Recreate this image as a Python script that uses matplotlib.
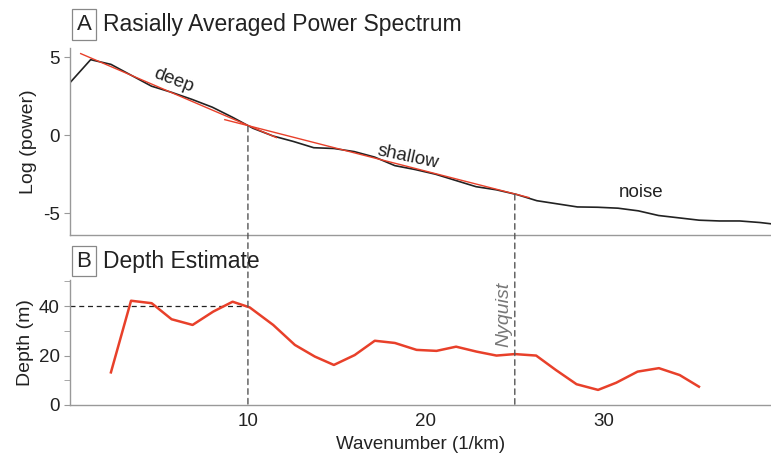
import matplotlib
matplotlib.use("Agg")
import matplotlib.pyplot as plt
from matplotlib.patches import ConnectionPatch

plt.rcParams["font.family"] = ["Liberation Sans", "DejaVu Sans"]

# radially averaged power spectrum (log power vs wavenumber)
spec_k = [0.02, 1.16, 2.3, 3.44, 4.58, 5.72, 6.86, 8.0, 9.14, 10.28, 11.42, 12.56,
          13.7, 14.84, 15.98, 17.12, 18.26, 19.4, 20.54, 21.68, 22.82, 23.96, 25.1,
          26.24, 27.38, 28.52, 29.66, 30.8, 31.94, 33.08, 34.22, 35.36, 36.5, 37.64,
          38.78, 39.92]
spec_logp = [3.4, 4.85, 4.55, 3.85, 3.15, 2.75, 2.3, 1.8, 1.15, 0.45, -0.05, -0.4,
             -0.8, -0.85, -1.05, -1.4, -1.95, -2.2, -2.5, -2.9, -3.3, -3.5, -3.8,
             -4.2, -4.4, -4.6, -4.62, -4.68, -4.85, -5.15, -5.3, -5.45, -5.5, -5.5,
             -5.6, -5.75]

# linear fits (end points)
deep_k = [0.6, 11.6]
deep_logp = [5.24, -0.15]
shallow_k = [8.7, 25.8]
shallow_logp = [1.0, -4.0]

# depth estimate
depth_k = [2.3, 3.43, 4.59, 5.71, 6.89, 8.05, 9.14, 10.1, 11.42, 12.64, 13.76, 14.83,
           16.0, 17.13, 18.26, 19.48, 20.6, 21.7, 22.85, 23.97, 25.0, 26.2, 27.3,
           28.47, 29.68, 30.7, 31.9, 33.1, 34.27, 35.35]
depth_m = [13.2, 42.2, 41.2, 34.7, 32.4, 37.8, 41.8, 39.5, 32.4, 24.3, 19.6, 16.2,
           20.2, 26.0, 25.1, 22.3, 21.9, 23.6, 21.6, 20.0, 20.6, 20.0, 14.2,
           8.4, 6.1, 9.0, 13.5, 14.9, 12.1, 7.4]

k_break = 10
k_nyquist = 25
depth_ref = 40

SPINE = "#999999"
RED = "#e8402a"
DASH = "#555555"
TXT = "#222222"

fig = plt.figure(figsize=(7.71, 4.54), dpi=100)
ax1 = fig.add_axes([0.0908, 0.4824, 0.9092, 0.4119])
ax2 = fig.add_axes([0.0908, 0.108, 0.9092, 0.2753], sharex=ax1)

for ax in (ax1, ax2):
    for s in ("top", "right"):
        ax.spines[s].set_visible(False)
    for s in ("left", "bottom"):
        ax.spines[s].set_color(SPINE)
        ax.spines[s].set_linewidth(1.0)
    ax.tick_params(colors=SPINE, labelcolor=TXT, labelsize=13.5, length=4)

# panel A
ax1.plot(spec_k, spec_logp, color=TXT, lw=1.2, zorder=2)
ax1.plot(deep_k, deep_logp, color=RED, lw=1.0, zorder=3)
ax1.plot(shallow_k, shallow_logp, color=RED, lw=1.0, zorder=3)
ax1.set_xlim(0, 39.4)
ax1.set_ylim(-6.4, 5.6)
ax1.set_yticks([-5, 0, 5])
ax1.set_yticklabels(["-5", "0", "5"])
ax1.tick_params(axis="x", bottom=False, labelbottom=False)
ax1.set_ylabel("Log (power)", fontsize=14, color=TXT, labelpad=4)
ax1.text(5.8, 3.5, "deep", rotation=-21, fontsize=13.5,
         ha="center", va="center", color=TXT)
ax1.text(19.0, -1.4, "shallow", rotation=-12, fontsize=13.5,
         ha="center", va="center", color=TXT)
ax1.text(32.1, -3.65, "noise", fontsize=13.5, ha="center", va="center", color=TXT)

# panel B
ax2.plot(depth_k, depth_m, color=RED, lw=1.8, zorder=3)
ax2.plot([0, k_break], [depth_ref, depth_ref], color=TXT, lw=0.9,
         ls=(0, (4, 3)))
ax2.set_ylim(0, 50.6)
ax2.set_yticks([0, 20, 40])
ax2.set_yticks([10, 30, 50], minor=True)
ax2.tick_params(axis="y", which="minor", colors=SPINE, length=4)
ax2.set_xticks([10, 20, 30])
ax2.tick_params(axis="x", length=0, pad=6)
ax2.set_ylabel("Depth (m)", fontsize=14, color=TXT, labelpad=3)
ax2.set_xlabel("Wavenumber (1/km)", fontsize=13.5, color=TXT, labelpad=4)
ax2.text(k_nyquist - 0.15, 36.6, "Nyquist", rotation=90, fontsize=14, style="italic",
         color="#777777", ha="right", va="center")

# dashed verticals spanning both panels
con1 = ConnectionPatch(xyA=(k_break, 0.58), coordsA=ax1.transData,
                       xyB=(k_break, 0), coordsB=ax2.transData,
                       color=DASH, lw=1.0, ls=(0, (4, 3)), zorder=1)
con2 = ConnectionPatch(xyA=(k_nyquist, -3.8), coordsA=ax1.transData,
                       xyB=(k_nyquist, 0), coordsB=ax2.transData,
                       color=DASH, lw=1.0, ls=(0, (4, 3)), zorder=1)
fig.add_artist(con1)
fig.add_artist(con2)

# panel titles
box = dict(boxstyle="square,pad=0.22", fc="white", ec="#888888", lw=0.9)
fig.text(0.109, 0.946, "A", fontsize=16, ha="center", va="center", bbox=box,
         color=TXT)
fig.text(0.134, 0.946, "Rasially Averaged Power Spectrum", fontsize=16.5,
         ha="left", va="center", color=TXT)
fig.text(0.109, 0.425, "B", fontsize=16, ha="center", va="center", bbox=box,
         color=TXT)
fig.text(0.134, 0.425, "Depth Estimate", fontsize=16.5, ha="left", va="center",
         color=TXT)

fig.savefig("out.png", dpi=100)
